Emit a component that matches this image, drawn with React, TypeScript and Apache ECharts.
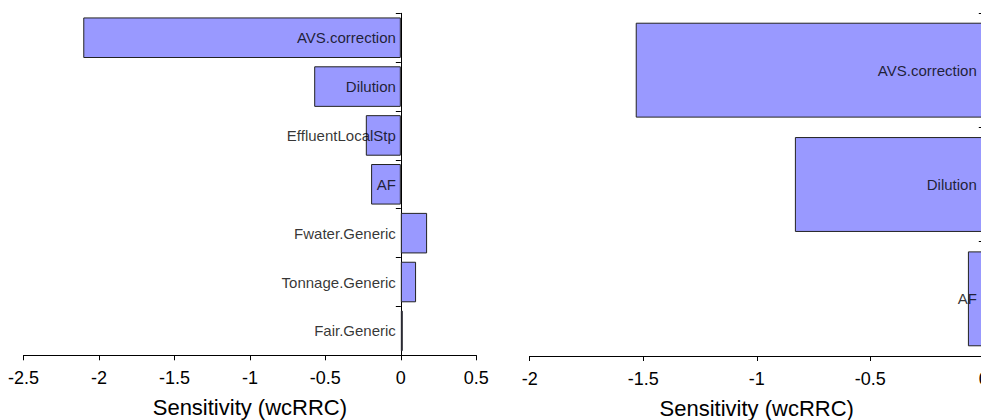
import React, { useEffect, useRef } from "react";
import * as echarts from "echarts";

const leftCategories = [
  "AVS.correction",
  "Dilution",
  "EffluentLocalStp",
  "AF",
  "Fwater.Generic",
  "Tonnage.Generic",
  "Fair.Generic",
];
const leftValues = [-2.104, -0.574, -0.232, -0.197, 0.174, 0.101, 0.013];
const leftTicks = { min: -2.5, max: 0.5, interval: 0.5 };

const rightCategories = ["AVS.correction", "Dilution", "AF"];
const rightValues = [-1.533, -0.832, -0.07];
const rightTicks = { min: -2, max: 0, interval: 0.5 };

const axisTitle = "Sensitivity (wcRRC)";

const FONT = "'Liberation Sans', Arial, Helvetica, sans-serif";
const BAR_FILL = "#9999ff";
const BAR_BORDER = "#222222";

export default function App() {
  const ref = useRef<HTMLDivElement>(null);

  useEffect(() => {
    if (!ref.current) return;
    const chart = echarts.init(ref.current, undefined, { renderer: "svg" });

    const xAxisCommon = (idx: number, t: { min: number; max: number; interval: number }) => ({
      type: "value",
      gridIndex: idx,
      min: t.min,
      max: t.max,
      interval: t.interval,
      name: axisTitle,
      nameLocation: "middle",
      nameGap: 41,
      nameTextStyle: { fontSize: 22, color: "#000", fontFamily: FONT },
      splitLine: { show: false },
      axisLine: { show: true, onZero: false, lineStyle: { color: "#000", width: 1 } },
      axisTick: { show: true, length: 5, lineStyle: { color: "#000", width: 1 } },
      axisLabel: {
        fontSize: 18,
        color: "#000",
        fontFamily: FONT,
        margin: 14,
        showMinLabel: true,
        showMaxLabel: true,
        hideOverlap: false,
      },
    });

    const yAxisCommon = (idx: number, cats: string[]) => ({
      type: "category",
      gridIndex: idx,
      data: cats,
      inverse: true,
      axisLine: { show: true, onZero: true, lineStyle: { color: "#000", width: 1 } },
      axisTick: { show: true, length: 5, alignWithLabel: false, lineStyle: { color: "#000", width: 1 } },
      axisLabel: { show: false },
      splitLine: { show: false },
    });

    const barSeries = (idx: number, vals: number[]) => ({
      type: "bar",
      xAxisIndex: idx,
      yAxisIndex: idx,
      data: vals,
      barCategoryGap: "17%",
      itemStyle: { color: BAR_FILL, borderColor: BAR_BORDER, borderWidth: 1 },
      silent: true,
    });

    const labelSeries = (idx: number, cats: string[], dist: number) => ({
      type: "scatter",
      xAxisIndex: idx,
      yAxisIndex: idx,
      symbolSize: 0,
      data: cats.map((c) => ({ name: c, value: [0, c] })),
      label: {
        show: true,
        position: "left",
        distance: dist,
        formatter: (p: any) => p.name,
        fontSize: 15,
        color: "#000",
        fontFamily: FONT,
      },
      z: 10,
      silent: true,
    });

    chart.setOption({
      animation: false,
      backgroundColor: "#ffffff",
      textStyle: { fontFamily: FONT },
      grid: [
        { left: 23.5, right: 504.7, top: 13.3, height: 342, containLabel: false, outerBoundsMode: "none" },
        { left: 529.7, right: -2.8, top: 13, height: 343, containLabel: false, outerBoundsMode: "none" },
      ],
      xAxis: [xAxisCommon(0, leftTicks), xAxisCommon(1, rightTicks)],
      yAxis: [yAxisCommon(0, leftCategories), yAxisCommon(1, rightCategories)],
      series: [
        barSeries(0, leftValues),
        barSeries(1, rightValues),
        labelSeries(0, leftCategories, 5),
        labelSeries(1, rightCategories, 7),
      ],
    });

    return () => chart.dispose();
  }, []);

  return (
    <div
      style={{
        position: "fixed",
        left: 0,
        top: 0,
        width: 981,
        height: 420,
        overflow: "hidden",
        background: "#fff",
      }}
    >
      <div ref={ref} style={{ width: 981, height: 420 }} />
    </div>
  );
}
